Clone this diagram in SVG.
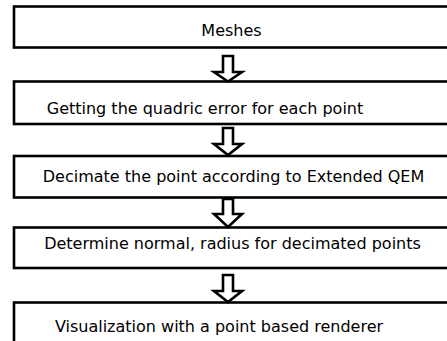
<svg xmlns="http://www.w3.org/2000/svg" width="447" height="341" viewBox="0 0 447 341">
<style>
.box{fill:#fff;stroke:#000;stroke-width:2.6}
.lbl{font-family:"DejaVu Sans",Verdana,sans-serif;font-size:16px;fill:#000;text-anchor:middle}
.arr{fill:#fff;stroke:#000;stroke-width:2.6;stroke-linejoin:miter}
</style>
<rect x="0" y="0" width="447" height="341" fill="#fff"/>
<g id="node1"><rect class="box" x="14" y="6.5" width="440" height="41"/><text class="lbl" x="231.5" y="36">Meshes</text></g>
<g id="node2"><rect class="box" x="14" y="81.5" width="440" height="42.5"/><text class="lbl" x="205" y="113.5">Getting the quadric error for each point</text></g>
<g id="node3"><rect class="box" x="14" y="156" width="440" height="41.5"/><text class="lbl" x="233.5" y="182">Decimate the point according to Extended QEM</text></g>
<g id="node4"><rect class="box" x="14" y="227.5" width="440" height="40.5"/><text class="lbl" x="232.5" y="249">Determine normal, radius for decimated points</text></g>
<g id="node5"><rect class="box" x="14" y="302.5" width="440" height="42"/><text class="lbl" x="219" y="332">Visualization with a point based renderer</text></g>
<g id="connectors">
<path class="arr" d="M223 56 H233 V72 H242 L228 81.5 L214 72 H223 Z"/>
<path class="arr" d="M223 128 H233 V144 H242 L228 155 L214 144 H223 Z"/>
<path class="arr" d="M223 199 H233 V214 H242 L228 227 L214 214 H223 Z"/>
<path class="arr" d="M223 275 H233 V291 H242 L228 302 L214 291 H223 Z"/>
</g>
</svg>
